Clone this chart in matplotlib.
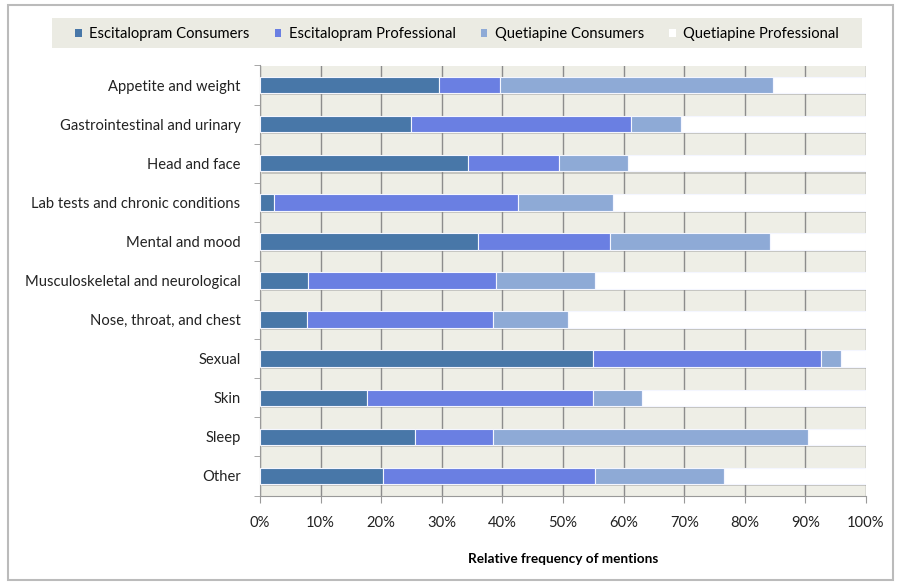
import matplotlib
matplotlib.use("Agg")
import matplotlib.pyplot as plt
import matplotlib.patheffects as pe
from matplotlib.patches import Rectangle
from matplotlib.ticker import PercentFormatter, FixedLocator
import numpy as np

plt.rcParams['font.family'] = ['Lato', 'DejaVu Sans']

categories = ["Appetite and weight", "Gastrointestinal and urinary", "Head and face",
              "Lab tests and chronic conditions", "Mental and mood",
              "Musculoskeletal and neurological", "Nose, throat, and chest",
              "Sexual", "Skin", "Sleep", "Other"]

# shares in percent
esc_consumers = [29.6, 24.9, 34.4, 2.3, 36.0, 7.9, 7.7, 54.9, 17.7, 25.5, 20.3]
esc_professional = [10.0, 36.3, 14.9, 40.3, 21.7, 31.1, 30.7, 37.6, 37.2, 12.9, 35.0]
que_consumers = [45.1, 8.3, 11.4, 15.6, 26.4, 16.2, 12.4, 3.3, 8.2, 52.1, 21.2]
que_professional = [15.3, 30.5, 39.3, 41.8, 15.9, 44.8, 49.2, 4.2, 36.9, 9.5, 23.5]

series = [esc_consumers, esc_professional, que_consumers, que_professional]
names = ["Escitalopram Consumers", "Escitalopram Professional",
         "Quetiapine Consumers", "Quetiapine Professional"]
colors = ["#4877a8", "#6a7fe2", "#8eaad6", "#ffffff"]

fig = plt.figure(figsize=(8.98, 5.86), dpi=100)
ax = fig.add_axes([260/898, 1-495.5/586, 606/898, 430/586])
ax.set_facecolor("#eeeee6")

shadow = [pe.SimplePatchShadow(offset=(1.2, -1.5), shadow_rgbFace="#777777", alpha=0.35), pe.Normal()]
y = np.arange(len(categories))
left = np.zeros(len(categories))
for vals, name, col in zip(series, names, colors):
    bars = ax.barh(y, vals, left=left, height=0.42, color=col, edgecolor="#f4f6ff",
                   linewidth=0.8, label=name, zorder=3)
    for b in bars:
        b.set_path_effects(shadow)
    left += np.array(vals)

ax.set_xlim(0, 100)
ax.set_ylim(len(categories) - 0.5, -0.5)
ax.set_yticks(y)
ax.set_yticklabels(categories, fontsize=10.6, color="#222222")
ax.yaxis.set_minor_locator(FixedLocator(np.arange(-0.5, len(categories), 1)))
ax.tick_params(axis="y", which="major", length=0, pad=14)
ax.tick_params(axis="y", which="minor", length=4, color="#999999")
ax.set_xticks(np.arange(0, 101, 10))
ax.xaxis.set_major_formatter(PercentFormatter(decimals=0))
ax.tick_params(axis="x", length=5, color="#999999", labelsize=10.6, labelcolor="#222222", pad=10)
ax.grid(axis="x", color="#8c8c8c", linewidth=1.0, zorder=0)
ax.set_axisbelow(True)
for s in ["top", "right"]:
    ax.spines[s].set_visible(False)
ax.spines["left"].set_color("#999999")
ax.spines["bottom"].set_color("#999999")
ax.set_xlabel("Relative frequency of mentions", fontsize=9.8, fontweight="bold", labelpad=16)

# legend band
fig.patches.append(Rectangle((52/898, 1-48/586), 810/898, 30/586, transform=fig.transFigure,
                             facecolor="#ebebe3", edgecolor="none", zorder=0))
leg = fig.legend(loc="center", bbox_to_anchor=(457/898, 1-34/586), ncol=4, frameon=False,
                 fontsize=10.6, handlelength=0.45, handleheight=0.45, handletextpad=0.5,
                 columnspacing=1.7, borderaxespad=0)
for h in leg.legend_handles:
    h.set_path_effects([])
    h.set_edgecolor("none")

fig.patches.append(Rectangle((8/898, 1-580/586), 885/898, 575/586, transform=fig.transFigure,
                             fill=False, edgecolor="#bbbbbb", linewidth=1.5))

fig.savefig("out.png", dpi=100)
